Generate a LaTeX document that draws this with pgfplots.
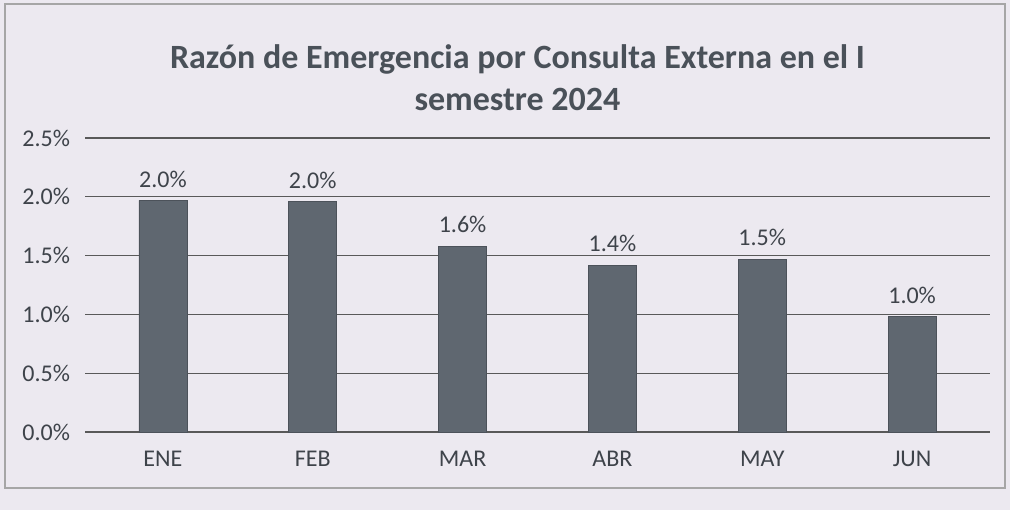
\documentclass[border=0pt]{standalone}
\usepackage{pgfplots}
\pgfplotsset{compat=1.18}
\usepackage{fontspec}
\setmainfont{Carlito}
\definecolor{bg}{HTML}{ECE9F0}
\definecolor{barc}{HTML}{5F6770}
\definecolor{txt}{HTML}{3E434A}
\definecolor{titlec}{HTML}{4A5159}

\begin{document}
\begin{tikzpicture}
% page background and chart frame
\fill[bg] (-42.5pt,-39pt) rectangle (462.5pt,216pt);
\draw[gray!70, line width=0.8pt] (-40pt,-28pt) rectangle (460pt,214pt);
\begin{axis}[
scale only axis,
width=452.5pt,
height=147pt,
ymin=0, ymax=2.5,
xmin=-0.52, xmax=5.52,
ytick={0,0.5,...,2.5},
yticklabel={\pgfmathprintnumber[fixed,fixed zerofill,precision=1]{\tick}\%},
xtick={0,...,5},
xticklabels={ENE,FEB,MAR,ABR,MAY,JUN},
axis line style={draw=none},
major tick length=0pt,
ymajorgrids,
grid style={gray!70!black, line width=0.6pt},
tick label style={font=\fontsize{12}{14}\selectfont, text=txt},
xticklabel style={yshift=-6pt},
yticklabel style={xshift=-4pt},
/pgf/number format/assume math mode=true,
title={Razón de Emergencia por Consulta Externa en el I\\semestre 2024},
title style={font=\fontsize{17}{21}\selectfont\bfseries, text=titlec, align=center, yshift=4pt, xshift=-10pt},
nodes near coords={\pgfmathprintnumber[fixed,fixed zerofill,precision=1]{\pgfplotspointmeta}\%},
nodes near coords style={font=\fontsize{12}{14}\selectfont, text=txt, yshift=3pt},
]
\addplot[ybar, bar width=24pt, fill=barc, draw=barc!80!black] coordinates {
(0,1.97) (1,1.96) (2,1.58) (3,1.42) (4,1.47) (5,0.98)};
\end{axis}
\end{tikzpicture}
\end{document}
